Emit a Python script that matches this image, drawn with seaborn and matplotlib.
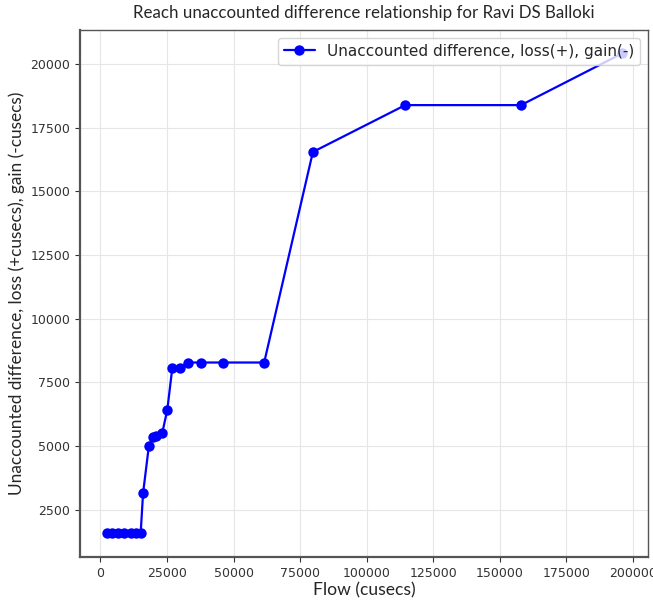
import pandas as pd
import matplotlib
matplotlib.use("Agg")
import matplotlib.pyplot as plt
import seaborn as sns

# --- Data ---
flow = [2500, 4500, 6500, 9000, 11500, 13500, 15100, 16000, 18200, 19700, 20700,
        23200, 25100, 27000, 29700, 32800, 37800, 45900, 61500, 79800, 114500,
        158000, 196000]
unaccounted = [1580, 1580, 1580, 1580, 1580, 1580, 1580, 3150, 5020, 5340, 5390,
               5510, 6420, 8080, 8080, 8280, 8280, 8280, 8280, 16550, 18390,
               18390, 20420]

series_label = "Unaccounted difference, loss(+), gain(-)"
title = "Reach unaccounted difference relationship for Ravi DS Balloki"
x_label = "Flow (cusecs)"
y_label = "Unaccounted difference, loss (+cusecs), gain (-cusecs)"

df = pd.DataFrame({"Flow": flow, "Unaccounted": unaccounted})

sns.set_style("white")

fig = plt.figure(figsize=(6.53, 6.05), dpi=100)
ax = fig.add_axes([0.1225, 0.0793, 0.8698, 0.8711])

# --- Line with markers ---
sns.lineplot(data=df, x="Flow", y="Unaccounted", sort=False, color="blue",
             marker="o", markersize=7.5, markeredgewidth=0, linewidth=1.6,
             label=series_label, ax=ax)

ax.set_xlim(-7700, 205700)
ax.set_ylim(640, 21340)
ax.set_xticks(range(0, 200001, 25000))
ax.set_yticks(range(2500, 20001, 2500))

# --- Grid and frame ---
ax.grid(True, color="#e6e6e6", linewidth=0.8)
for side in ax.spines.values():
    side.set_color("#555555")
    side.set_linewidth(1.0)
ax.spines["left"].set_linewidth(1.6)
ax.spines["bottom"].set_linewidth(1.6)
ax.tick_params(axis="both", which="major", labelsize=9, length=3.5, width=0.8,
               color="#333333", labelcolor="#333333", left=True, bottom=True)

# --- Labels ---
ax.set_title(title, fontsize=12.2, family="Lato", pad=9)
ax.set_xlabel(x_label, fontsize=12.6, family="Lato", labelpad=2)
ax.set_ylabel(y_label, fontsize=12.4, family="Lato", labelpad=4)

leg = ax.legend(loc="upper right", fontsize=11, frameon=True, fancybox=True,
                framealpha=0.8, borderpad=0.4, handlelength=2)
leg.get_frame().set_edgecolor("#cccccc")

fig.savefig("out.png", dpi=100)
